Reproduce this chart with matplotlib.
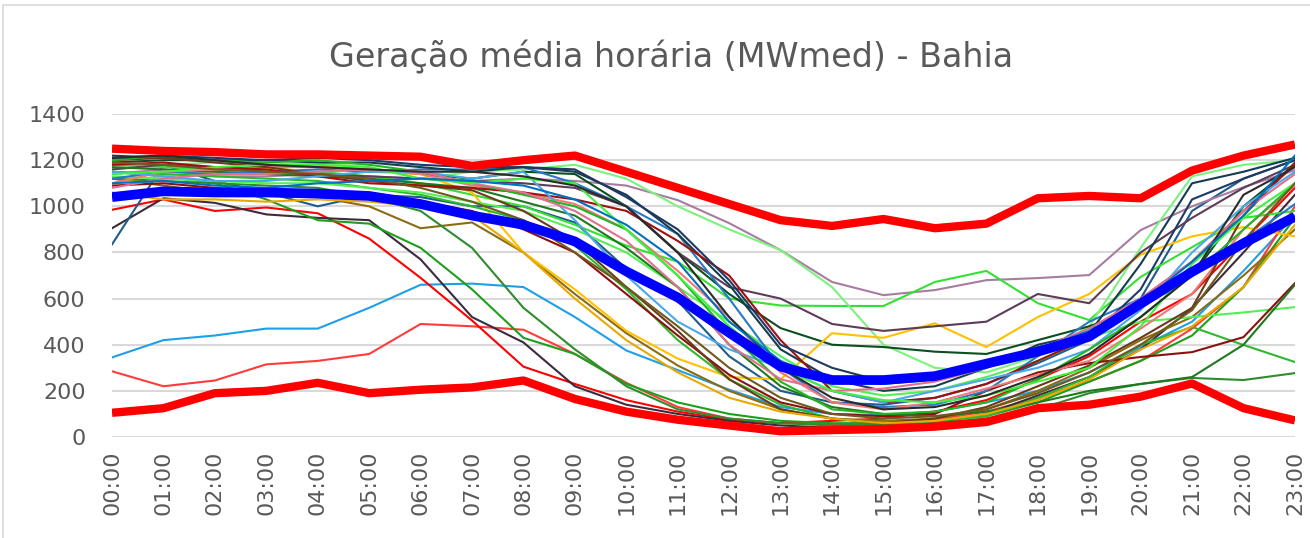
import matplotlib
matplotlib.use("Agg")
import matplotlib.pyplot as plt
from matplotlib.patches import Rectangle

# Horas do dia
horas = ["%02d:00" % h for h in range(24)]

# Curvas diárias (MWmed) - leitura aproximada do gráfico
dias = [
    ("#1E9FE8", [345, 420, 440, 470, 470, 560, 660, 665, 650, 520, 375, 290, 205, 130, 100, 95, 110, 150, 200, 280, 390, 500, 720, 960]),
    ("#FF3B3B", [285, 220, 245, 315, 330, 360, 490, 480, 465, 360, 235, 130, 80, 60, 55, 60, 75, 110, 170, 240, 330, 470, 650, 1000]),
    ("#FF0000", [985, 1030, 980, 995, 970, 860, 690, 505, 305, 230, 160, 110, 75, 60, 70, 80, 110, 160, 250, 350, 500, 620, 850, 1080]),
    ("#3D2B3D", [905, 1035, 1015, 965, 950, 940, 770, 520, 410, 220, 140, 100, 70, 50, 40, 45, 60, 100, 180, 260, 380, 560, 800, 1050]),
    ("#1CA01C", [1150, 1130, 1100, 1030, 940, 925, 820, 640, 430, 360, 230, 150, 100, 70, 60, 60, 70, 90, 150, 240, 330, 440, 650, 950]),
    ("#8B6C12", [1120, 1090, 1060, 1050, 1040, 1000, 905, 930, 800, 620, 450, 310, 200, 120, 80, 70, 80, 120, 200, 300, 420, 520, 700, 900]),
    ("#1F5C8A", [835, 1180, 1110, 1060, 1000, 1050, 1040, 1000, 1000, 930, 730, 590, 350, 200, 150, 140, 170, 230, 320, 420, 600, 980, 1120, 1200]),
    ("#A87CA0", [1140, 1160, 1130, 1130, 1140, 1130, 1120, 1110, 1120, 1110, 1090, 1027, 927, 810, 672, 615, 637, 680, 689, 702, 897, 1000, 1083, 1157]),
    ("#33E033", [1180, 1170, 1160, 1150, 1150, 1130, 1100, 1050, 1000, 920, 830, 760, 600, 570, 568, 568, 672, 720, 580, 507, 694, 823, 950, 980]),
    ("#7CF27C", [1160, 1180, 1190, 1180, 1190, 1170, 1120, 1150, 1160, 1180, 1120, 1000, 900, 810, 650, 400, 300, 280, 350, 480, 820, 1130, 1180, 1200]),
    ("#0B4F1E", [1190, 1200, 1200, 1180, 1170, 1160, 1140, 1120, 1150, 1140, 1000, 800, 620, 472, 400, 390, 370, 360, 420, 480, 560, 700, 1000, 1180]),
    ("#FFC000", [1100, 1130, 1150, 1160, 1180, 1150, 1140, 1060, 800, 640, 460, 340, 260, 250, 450, 430, 493, 390, 520, 620, 790, 870, 910, 870]),
    ("#5E3C58", [1160, 1180, 1170, 1150, 1140, 1130, 1120, 1110, 1100, 1080, 1000, 800, 650, 600, 490, 460, 480, 500, 620, 580, 800, 950, 1080, 1180]),
    ("#2E8B2E", [1120, 1110, 1100, 1090, 1080, 1040, 980, 820, 560, 380, 220, 120, 80, 60, 50, 55, 60, 80, 120, 190, 230, 256, 247, 277]),
    ("#2DB82D", [1150, 1140, 1130, 1120, 1110, 1080, 1050, 1000, 940, 830, 640, 420, 250, 140, 80, 60, 70, 90, 170, 260, 400, 477, 399, 325]),
    ("#55EE55", [1130, 1120, 1110, 1100, 1100, 1080, 1060, 1020, 980, 900, 800, 650, 500, 350, 220, 180, 200, 260, 330, 430, 500, 520, 540, 563]),
    ("#8B1010", [1090, 1100, 1080, 1070, 1060, 1050, 1020, 980, 900, 800, 620, 440, 270, 150, 100, 90, 100, 200, 280, 320, 347, 368, 433, 667]),
    ("#1E7A1E", [1170, 1160, 1150, 1140, 1130, 1120, 1100, 1080, 1020, 960, 820, 650, 400, 220, 130, 100, 90, 110, 150, 200, 230, 260, 400, 660]),
    ("#2878C8", [1120, 1150, 1140, 1150, 1160, 1150, 1160, 1160, 1170, 1100, 1000, 880, 600, 300, 150, 130, 140, 200, 350, 500, 600, 720, 850, 1010]),
    ("#F07878", [1100, 1150, 1160, 1170, 1170, 1160, 1140, 1090, 1060, 1010, 900, 720, 520, 280, 150, 120, 150, 210, 270, 330, 470, 620, 900, 1090]),
    ("#153D4F", [1220, 1210, 1200, 1200, 1190, 1190, 1170, 1150, 1170, 1150, 1050, 880, 660, 380, 250, 200, 220, 300, 400, 450, 750, 1100, 1150, 1210]),
    ("#6B3A1A", [1200, 1210, 1190, 1170, 1140, 1110, 1090, 1070, 980, 850, 650, 460, 250, 120, 80, 60, 80, 130, 220, 310, 430, 560, 960, 1190]),
    ("#A01010", [1180, 1190, 1170, 1160, 1130, 1100, 1090, 1080, 1060, 1030, 980, 850, 700, 420, 200, 150, 170, 230, 330, 430, 600, 760, 980, 1180]),
    ("#4AA8E8", [1150, 1130, 1110, 1110, 1130, 1150, 1150, 1120, 1150, 940, 700, 500, 380, 300, 200, 150, 200, 250, 300, 380, 550, 800, 1000, 1150]),
    ("#E8A800", [1060, 1030, 1030, 1020, 1030, 1020, 1000, 960, 800, 600, 420, 280, 170, 110, 80, 60, 70, 100, 160, 250, 380, 480, 650, 920]),
    ("#22B522", [1200, 1220, 1200, 1190, 1200, 1180, 1150, 1100, 1050, 1000, 900, 700, 450, 240, 120, 100, 110, 150, 250, 380, 520, 700, 900, 1100]),
    ("#203864", [1210, 1220, 1210, 1200, 1210, 1200, 1180, 1170, 1170, 1160, 1040, 900, 680, 400, 300, 240, 260, 310, 390, 430, 640, 1030, 1120, 1200]),
    ("#E07090", [1080, 1120, 1140, 1140, 1150, 1160, 1150, 1100, 1060, 980, 850, 650, 400, 250, 200, 210, 240, 300, 380, 470, 600, 760, 980, 1140]),
    ("#40F040", [1140, 1150, 1170, 1180, 1180, 1170, 1120, 1100, 1120, 1100, 900, 700, 480, 300, 200, 160, 150, 180, 240, 300, 480, 750, 950, 1100]),
    ("#6E5A1E", [1190, 1180, 1160, 1150, 1140, 1120, 1080, 1020, 940, 800, 650, 480, 300, 170, 100, 80, 90, 120, 190, 280, 400, 550, 850, 1100]),
    ("#2B2B2B", [1210, 1220, 1200, 1180, 1170, 1160, 1150, 1150, 1130, 1090, 1000, 800, 520, 300, 170, 120, 130, 180, 260, 360, 520, 700, 1050, 1170]),
    ("#0070C0", [1100, 1110, 1090, 1080, 1100, 1110, 1120, 1110, 1090, 1030, 920, 760, 500, 330, 240, 230, 250, 300, 380, 460, 580, 760, 960, 1220]),
]

maximo = [1250, 1240, 1235, 1225, 1225, 1220, 1215, 1175, 1200, 1220, 1150, 1080, 1010, 940, 915, 945, 905, 925, 1035, 1045, 1035, 1155, 1220, 1268]
minimo = [105, 125, 190, 200, 235, 190, 205, 215, 245, 165, 110, 75, 50, 25, 30, 35, 45, 65, 125, 140, 175, 232, 125, 72]
media = [1040, 1065, 1060, 1060, 1055, 1045, 1010, 960, 920, 848, 718, 605, 452, 305, 247, 247, 264, 318, 370, 435, 578, 716, 840, 955]

fig = plt.figure(figsize=(13.1, 5.38), dpi=100)
ax = fig.add_axes([0.0855, 0.1877, 0.9030, 0.6003])

x = list(range(24))
for cor, valores in dias:
    ax.plot(x, valores, color=cor, lw=1.5)

ax.plot(x, maximo, color="#FF0000", lw=6, solid_capstyle="butt")
ax.plot(x, minimo, color="#FF0000", lw=6, solid_capstyle="butt")
ax.plot(x, media, color="#0000FF", lw=7, solid_capstyle="butt")

ax.set_xlim(0, 23)
ax.set_ylim(0, 1400)
ax.set_yticks(range(0, 1401, 200))
ax.set_xticks(x)
ax.set_xticklabels(horas, rotation=90)
ax.tick_params(axis="both", length=0, labelsize=16, labelcolor="#595959")
ax.tick_params(axis="y", pad=19)
ax.tick_params(axis="x", pad=10)
ax.grid(axis="y", color="#D9D9D9", lw=1.5)
ax.set_axisbelow(True)
for s in ax.spines.values():
    s.set_visible(False)

fig.text(0.5125, 0.894, "Geração média horária (MWmed) - Bahia",
         ha="center", va="center", fontsize=24, color="#595959")

# moldura do gráfico
fig.patches.append(Rectangle((0.002, -0.01), 1.5, 1.0, transform=fig.transFigure,
                             fill=False, edgecolor="#D9D9D9", lw=1.2))

fig.savefig("out.png", dpi=100)
